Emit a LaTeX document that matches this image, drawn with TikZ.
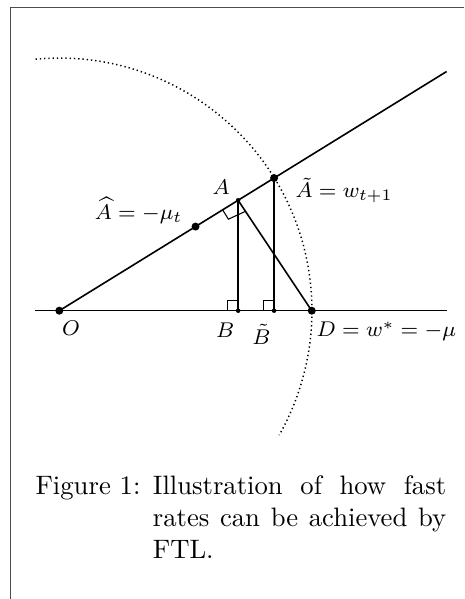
\documentclass[tikz,border=0pt]{standalone}
\usepackage{tikz}
\usetikzlibrary{calc}
\tikzset{
  geo/.style={line width=0.6pt, black},
  circarc/.style={line width=0.55pt, dash pattern=on 0.5pt off 1.1pt},
  rmark/.style={line width=0.4pt, black},
  bigdot/.style={circle, fill=black, inner sep=0pt, minimum size=3pt},
  smalldot/.style={circle, fill=black, inner sep=0pt, minimum size=1.7pt},
  lbl/.style={inner sep=0pt, font=\footnotesize},
  frameline/.style={line width=0.4pt, black!70},
}
\begin{document}
\begin{tikzpicture}
  \useasboundingbox (-0.782,-3.800) rectangle (5.334,4.095);

  % Frame
  \draw[frameline] (-0.643,-3.80) -- (-0.643,3.996) -- (5.334,3.996);

  % Points
  \coordinate (O) at (0,0);
  \coordinate (D) at (3.327,0);
  \coordinate (XL) at (-0.32,0);
  \coordinate (XR) at (5.11,0);
  \coordinate (E) at (31.7:6.0);
  \coordinate (Ah) at (31.7:2.11);
  \coordinate (A) at (31.7:2.77);
  \coordinate (At) at (31.7:3.327);
  \coordinate (B) at (A |- O);
  \coordinate (Bt) at (At |- O);

  % Axis, ray and circle
  \draw[geo] (XL) -- (XR);
  \draw[geo] (O) -- (E);
  \draw[circarc] ($(O)+(95.4:3.33)$) arc[start angle=95.4, end angle=-29.5, radius=3.33];

  % Perpendiculars
  \draw[geo] (A) -- (B);
  \draw[geo] (At) -- (Bt);
  \draw[geo] (A) -- (D);

  % Right angle marks
  \draw[rmark] ($(B)+(-0.135,0)$) -- ++(0,0.135) -- ($(B)+(0,0.135)$);
  \draw[rmark] ($(Bt)+(-0.135,0)$) -- ++(0,0.135) -- ($(Bt)+(0,0.135)$);
  \coordinate (P1) at ($(A)!0.24cm!(O)$);
  \coordinate (P2) at ($(P1)+(-58.3:0.145)$);
  \coordinate (P3) at ($(A)!0.1!(D)$);
  \draw[rmark] (P1) -- (P2) -- (P3);

  % Dots
  \node[bigdot] (dO) at (O) {};
  \node[bigdot] (dD) at (D) {};
  \node[bigdot] (dAh) at (Ah) {};
  \node[bigdot] (dAt) at (At) {};
  \node[smalldot] (dA) at (A) {};
  \node[smalldot] (dB) at (B) {};
  \node[smalldot] (dBt) at (Bt) {};

  % Labels
  \node[lbl] (lO) at ($(O)+(0.154,-0.228)$) {$O$};
  \node[lbl] (lA) at ($(A)+(-0.224,0.175)$) {$A$};
  \node[lbl] (lB) at ($(B)+(-0.171,-0.26)$) {$B$};
  \node[lbl] (lBt) at ($(Bt)+(-0.165,-0.312)$) {$\tilde{B}$};
  \node[lbl, anchor=west] (lAt) at ($(At)+(0.277,-0.167)$) {$\tilde{A} = w_{t+1}$};
  \node[lbl, anchor=east] (lAh) at ($(Ah)+(-0.166,0.21)$) {$\widehat{A} = -\mu_t$};
  \node[lbl, anchor=west] (lD) at ($(D)+(0.057,-0.273)$) {$D = w^{*} = -\mu$};

  % Caption
  \node[inner sep=0pt, anchor=base west] (cap) at (-0.320,-2.429) {\makebox[44pt][l]{Figure 1:}\parbox[t]{110pt}{Illustration of how fast\linebreak rates can be achieved by\linebreak FTL.}};
\end{tikzpicture}
\end{document}
